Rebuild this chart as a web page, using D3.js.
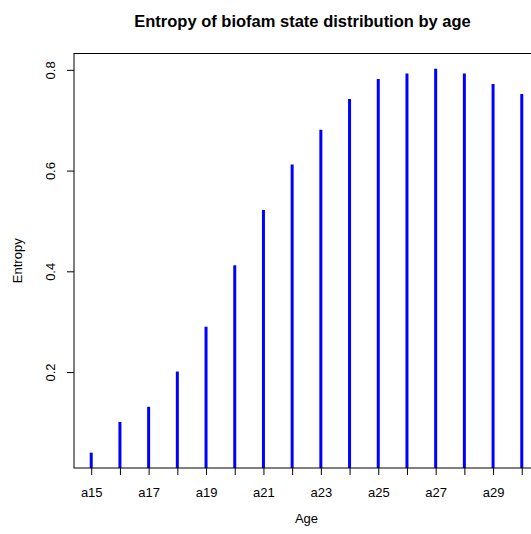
<!DOCTYPE html>
<html>
<head>
<meta charset="utf-8">
<script src="https://cdn.jsdelivr.net/npm/d3@7"></script>
<style>
  body { margin: 0; background: #fff; }
  svg { display: block; font-family: "Liberation Sans", Arial, sans-serif; }
</style>
</head>
<body>
<svg></svg>
<script>
let ages = ['a15','a16','a17','a18','a19','a20','a21','a22','a23','a24','a25','a26','a27','a28','a29','a30']
let entropy = [0.04, 0.101, 0.131, 0.201, 0.290, 0.412, 0.522, 0.612, 0.681, 0.742, 0.782, 0.793, 0.802, 0.793, 0.772, 0.752]
let yTicks = [0.2, 0.4, 0.6, 0.8]
let xLabels = ['a15','a17','a19','a21','a23','a25','a27','a29']

let width = 531
let height = 534
// plot region runs past the right edge of the picture, like the reference
let plotLeft = 74
let plotRight = 539
let plotTop = 53.5
let plotBottom = 468
let fontSize = 13

let svg = d3.select('svg')
  .attr('width', width)
  .attr('height', height)

// R style 4% range extension
let xScale = d3.scaleLinear()
  .domain([1 - 0.04 * 15, 16 + 0.04 * 15])
  .range([plotLeft, plotRight])

let yMin = d3.min(entropy)
let yMax = d3.max(entropy)
let yPad = (yMax - yMin) * 0.04
let yScale = d3.scaleLinear()
  .domain([yMin - yPad, yMax + yPad])
  .range([plotBottom, plotTop])

svg.append('defs').append('clipPath')
  .attr('id', 'plotclip')
  .append('rect')
  .attr('x', plotLeft).attr('y', plotTop)
  .attr('width', plotRight - plotLeft).attr('height', plotBottom - plotTop)

svg.append('g')
  .attr('clip-path', 'url(#plotclip)')
  .selectAll('line')
  .data(entropy)
  .enter()
  .append('line')
  .attr('x1', (d, i) => xScale(i + 1))
  .attr('x2', (d, i) => xScale(i + 1))
  .attr('y1', yScale(0))
  .attr('y2', (d) => yScale(d))
  .attr('stroke', '#0000ff')
  .attr('stroke-width', 3)

// box
svg.append('rect')
  .attr('x', plotLeft).attr('y', plotTop)
  .attr('width', plotRight - plotLeft).attr('height', plotBottom - plotTop)
  .attr('fill', 'none')
  .attr('stroke', '#000')
  .attr('stroke-width', 1)

// x axis
let xAxis = d3.axisBottom(xScale)
  .tickValues(d3.range(1, ages.length + 1))
  .tickSize(7)
  .tickPadding(13)
  .tickFormat((d) => xLabels.includes(ages[d - 1]) ? ages[d - 1] : '')

let gx = svg.append('g')
  .attr('transform', 'translate(0,' + plotBottom + ')')
  .call(xAxis)
gx.select('.domain').remove()
gx.selectAll('text').attr('font-size', fontSize).attr('font-family', '"Liberation Sans", Arial, sans-serif').attr('fill', '#000')

// y axis
let yAxis = d3.axisLeft(yScale)
  .tickValues(yTicks)
  .tickSize(7)
  .tickFormat(d3.format('.1f'))

let gy = svg.append('g')
  .attr('transform', 'translate(' + plotLeft + ',0)')
  .call(yAxis)
gy.select('.domain').remove()
gy.selectAll('text')
  .attr('font-size', fontSize)
  .attr('font-family', '"Liberation Sans", Arial, sans-serif')
  .attr('fill', '#000')
  .attr('x', null).attr('dy', null)
  .attr('text-anchor', 'middle')
  .attr('transform', 'translate(-24,0) rotate(-90)')
  .attr('dominant-baseline', 'central')

// titles
svg.append('text')
  .attr('x', 302.5)
  .attr('y', 26.5)
  .attr('text-anchor', 'middle')
  .attr('font-size', 16.5)
  .attr('font-weight', 'bold')
  .text('Entropy of biofam state distribution by age')

svg.append('text')
  .attr('x', (plotLeft + plotRight) / 2)
  .attr('y', 522.5)
  .attr('text-anchor', 'middle')
  .attr('font-size', fontSize)
  .text('Age')

svg.append('text')
  .attr('transform', 'translate(22,' + (plotTop + plotBottom) / 2 + ') rotate(-90)')
  .attr('text-anchor', 'middle')
  .attr('font-size', fontSize)
  .text('Entropy')
</script>
</body>
</html>
